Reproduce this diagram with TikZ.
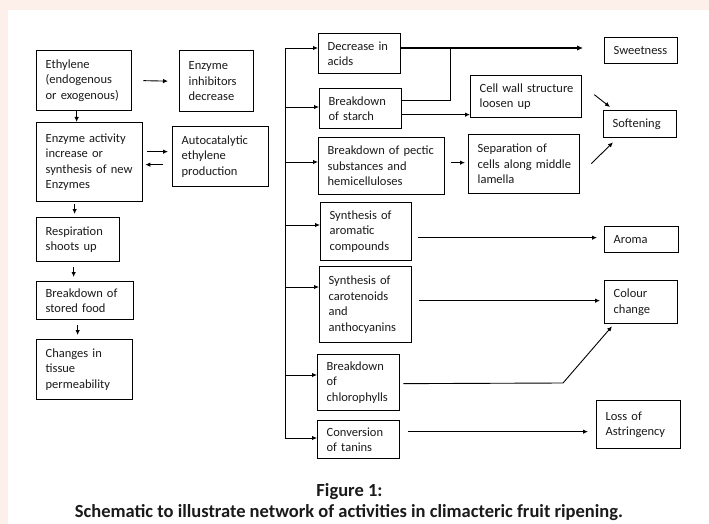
\documentclass[tikz,border=0pt]{standalone}
\usepackage{fontspec}
\setmainfont{Carlito}
\usetikzlibrary{arrows.meta,calc}
\definecolor{pinkbg}{HTML}{FDF0EA}
\definecolor{ink}{HTML}{1A1A1A}
\begin{document}
\begin{tikzpicture}[x=1pt,y=-1pt,
  box/.style={draw=black, line width=1.3pt, anchor=north west, align=left,
    inner xsep=9pt, inner ysep=2pt, text=ink,
    font=\fontsize{12.5}{15.5}\selectfont},
  arr/.style={draw=black, line width=0.9pt, -{Latex[length=5pt,width=4.5pt]}},
  arrthick/.style={draw=black, line width=1.8pt, -{Latex[length=6pt,width=5.5pt]}},
  ln/.style={draw=black, line width=0.9pt},
  captxt/.style={font=\bfseries\fontsize{18.5}{20}\selectfont, text=ink}]
\useasboundingbox (0,0) rectangle (709,524);
\fill[pinkbg] (0,0) rectangle (709,524);
\fill[white] (8,10) rectangle (709,524);

% left column
\node[box, text width=77pt, minimum height=60pt] (eth) at (36,50) {Ethylene\\(endogenous\\or exogenous)};
\node[box, text width=56pt, minimum height=61pt] (inh) at (179,50) {Enzyme\\inhibitors\\decrease};
\node[box, text width=88pt, minimum height=79pt] (enz) at (36,122) {Enzyme activity\\increase or\\\mbox{synthesis of new}\\Enzymes};
\node[box, text width=78pt, minimum height=60pt] (auto) at (172,126) {Autocatalytic\\ethylene\\production};
\node[box, text width=65pt, minimum height=44pt] (resp) at (36,217) {Respiration\\shoots up};
\node[box, text width=79pt, minimum height=38pt] (food) at (36,281) {Breakdown of\\stored food};
\node[box, text width=78pt, minimum height=60pt] (perm) at (36,339) {Changes in\\tissue\\permeability};

% middle column
\node[box, text width=64pt, minimum height=40pt] (acids) at (318,33) {Decrease in\\acids};
\node[box, text width=64pt, minimum height=40pt] (starch) at (319,88) {Breakdown\\of starch};
\node[box, text width=108pt, minimum height=57pt] (pectic) at (318,137) {\mbox{Breakdown of pectic}\\substances and\\hemicelluloses};
\node[box, text width=73pt, minimum height=58pt] (arom) at (320,202) {Synthesis of\\aromatic\\compounds};
\node[box, text width=74pt, minimum height=76pt] (carot) at (319,266) {Synthesis of\\carotenoids\\and\\anthocyanins};
\node[box, text width=64pt, minimum height=56pt] (chlor) at (317,354) {Breakdown\\of\\chlorophylls};
\node[box, text width=64pt, minimum height=38pt] (tan) at (317,420) {Conversion\\of tanins};

% right side
\node[box, text width=93pt, minimum height=42pt] (wall) at (470,75) {\mbox{Cell wall structure}\\loosen up};
\node[box, text width=93pt, minimum height=59pt] (sep) at (468,134) {Separation of\\\mbox{cells along middle}\\lamella};
\node[box, text width=55pt, minimum height=26pt] (sweet) at (604,37) {Sweetness};
\node[box, text width=55pt, minimum height=27pt] (soft) at (603,110) {Softening};
\node[box, text width=56pt, minimum height=26pt] (aroma) at (604,226) {Aroma};
\node[box, text width=55pt, minimum height=43pt] (colour) at (604,280) {Colour\\change};
\node[box, text width=66pt, minimum height=48pt] (loss) at (596,400) {Loss of\\Astringency};

% left column connectors
\draw[arr] ($(eth.east)+(11,0)$) -- ($(inh.west)+(-11,0)$);
\draw[arr] ($(enz.north)+(-13,-11)$) -- ($(enz.north)+(-13,0)$);
\draw[arr] ($(enz.east)+(4,-10.5)$) -- ($(auto.west)+(-4,-5)$);
\draw[arr] ($(auto.west)+(-9,8)$) -- ($(enz.east)+(2,2.5)$);
\draw[arr] ($(resp.north)+(-3.5,-13)$) -- ($(resp.north)+(-3.5,-3)$);
\draw[arr] ($(food.north)+(-11.5,-14)$) -- ($(food.north)+(-11.5,-4)$);
\draw[arr] ($(perm.north)+(-7,-14)$) -- ($(perm.north)+(-7,-4)$);

% trunk
\coordinate (ttop) at (285,48);
\coordinate (tbot) at (285,438);
\coordinate (b2) at (285,107);
\coordinate (b3) at (285,162);
\coordinate (b4) at (285,225);
\coordinate (b5) at (285,287);
\coordinate (b6) at (285,375);
\draw[ln] (ttop) -- (tbot);
\draw[arr] (ttop) -- (ttop -| acids.west);
\draw[arr] (b2) -- (b2 -| starch.west);
\draw[arr] (b3) -- (b3 -| pectic.west);
\draw[arr] (b4) -- (b4 -| arom.west);
\draw[arr] (b5) -- (b5 -| carot.west);
\draw[arr] (b6) -- (b6 -| chlor.west);
\draw[arr] (tbot) -- (tbot -| tan.west);

% right connectors
\coordinate (j1) at (450,48);
\draw[arrthick] (j1 -| acids.east) -- ($(j1 -| sweet.west)+(-21,0)$);
\draw[ln] ($(starch.east)+(0,-8)$) -| (j1);
\coordinate (s2) at ($(starch.east)+(0,6)$);
\draw[arr] (s2) -- (s2 -| wall.west);
\draw[arr] ($(wall.east)+(12,-2)$) -- ($(soft.north west)+(7,-3)$);
\draw[arr] ($(pectic.east)+(6,-3.5)$) -- ($(sep.west)+(-3,-1.5)$);
\draw[arr] ($(sep.east)+(11,-0.5)$) -- ($(soft.south west)+(10,4)$);
\coordinate (a1) at ($(arom.east)+(6,6)$);
\draw[arr] (a1) -- ($(a1 -| aroma.west)+(-7,0)$);
\coordinate (c1) at ($(carot.east)+(7,-4)$);
\draw[arr] (c1) -- ($(c1 -| colour.west)+(-4,0)$);
\coordinate (h1) at ($(chlor.east)+(3,1)$);
\coordinate (h2) at (563,383);
\draw[arr] (h1) -- (h2) -- ($(colour.south west)+(8,2)$);
\coordinate (t1) at ($(tan.east)+(8,-8)$);
\draw[arr] (t1) -- ($(t1 -| loss.west)+(-8,0)$);

% caption
\node[captxt] (fig) at (349.5,492) {Figure 1:};
\node[captxt] (cap) at (349,513) {Schematic to illustrate network of activities in climacteric fruit ripening.};
\end{tikzpicture}
\end{document}
